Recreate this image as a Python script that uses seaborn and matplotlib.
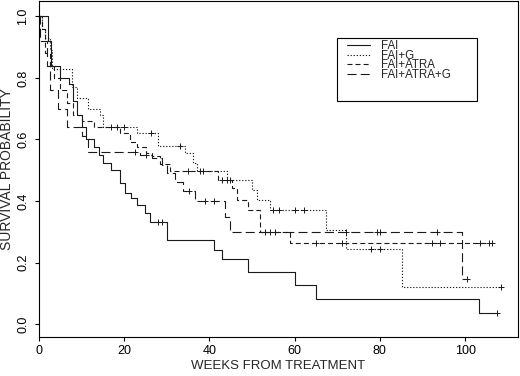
import numpy as np
import pandas as pd
import matplotlib
matplotlib.use('Agg')
import matplotlib.pyplot as plt
import seaborn as sns
from matplotlib.lines import Line2D
from matplotlib.patches import Rectangle

# Kaplan-Meier steps: event times (weeks) and survival after each step
groups = ['FAI', 'FAI+G', 'FAI+ATRA', 'FAI+ATRA+G']

fai_t = [0, 2.0, 2.8, 5.0, 7.0, 7.9, 8.9, 10.0, 11.0, 13.0, 14.0, 15.0, 17.0, 19.0,
         20.2, 21.7, 22.9, 24.9, 26.0, 30.0, 41.0, 43.0, 49.0, 60.0, 65.0, 103.3]
fai_s = [1.0, 0.92, 0.84, 0.80, 0.78, 0.725, 0.68, 0.64, 0.60, 0.575, 0.55, 0.525, 0.50, 0.46,
         0.425, 0.409, 0.387, 0.36, 0.333, 0.273, 0.24, 0.21, 0.168, 0.127, 0.081, 0.037]
fai_c = [28.0, 28.8, 107.4]

faig_t = [0, 0.6, 1.5, 2.5, 3.0, 7.7, 8.8, 11.5, 14.3, 15.0, 22.9, 28.0, 34.3, 36.1,
          37.0, 44.0, 49.9, 51.1, 54.2, 67.3, 72.0, 85.1]
faig_s = [1.0, 0.96, 0.93, 0.89, 0.83, 0.77, 0.735, 0.70, 0.68, 0.642, 0.62, 0.579, 0.555, 0.522,
          0.496, 0.468, 0.436, 0.403, 0.37, 0.306, 0.243, 0.12]
faig_c = [16.9, 18.2, 20.0, 26.2, 33.2, 38.6, 55.0, 56.2, 60.1, 62.2, 78.0, 80.0, 108.4]

fa_t = [0, 0.8, 1.5, 2.5, 3.5, 5.0, 6.5, 8.0, 10.0, 13.0, 19.0, 21.4, 22.9, 25.0, 26.6,
        28.3, 30.7, 42.0, 45.2, 46.4, 49.1, 51.9, 59.0]
fa_s = [1.0, 0.96, 0.88, 0.84, 0.80, 0.76, 0.72, 0.68, 0.66, 0.64, 0.62, 0.593, 0.577, 0.555, 0.545,
        0.52, 0.496, 0.468, 0.441, 0.403, 0.371, 0.30, 0.262]
fa_c = [35.0, 37.8, 42.9, 44.0, 44.8, 53.0, 55.4, 65.0, 71.0, 92.2, 94.1, 103.4, 105.5, 106.3]

fag_t = [0, 0.3, 1.8, 2.6, 4.5, 6.5, 10.0, 11.6, 23.7, 26.6, 28.9, 30.0, 32.0, 33.9, 36.6,
         43.7, 44.8, 99.3]
fag_s = [1.0, 0.92, 0.84, 0.76, 0.70, 0.64, 0.61, 0.56, 0.55, 0.539, 0.517, 0.49, 0.463, 0.434, 0.40,
         0.349, 0.30, 0.146]
fag_c = [22.5, 25.0, 35.2, 39.0, 41.0, 54.2, 72.0, 79.3, 80.0, 93.3, 100.4]

curves = {
    'FAI': (fai_t, fai_s, fai_c),
    'FAI+G': (faig_t, faig_s, faig_c),
    'FAI+ATRA': (fa_t, fa_s, fa_c),
    'FAI+ATRA+G': (fag_t, fag_s, fag_c),
}
x_ticks = [0, 20, 40, 60, 80, 100]
y_ticks = [0.0, 0.2, 0.4, 0.6, 0.8, 1.0]

sns.set_theme(style='ticks')
plt.rcParams['font.family'] = ['Liberation Sans', 'DejaVu Sans']
plt.rcParams['lines.scale_dashes'] = False

line_styles = {
    'FAI': '-',
    'FAI+G': (0, (0.9, 1.3)),
    'FAI+ATRA': (0, (3.6, 2.2)),
    'FAI+ATRA+G': (0, (6.5, 3.0)),
}
ink = '#1a1a1a'

fig = plt.figure(figsize=(5.2, 3.76), dpi=100)
ax = fig.add_axes([39 / 520, 1 - 337 / 376, 479 / 520, 336 / 376])

for name in groups:
    t, s, c = curves[name]
    # run the last step out to the last censored patient
    end = max(c[-1], t[-1])
    df = pd.DataFrame({'time': t + [end], 'surv': s + [s[-1]]})
    sns.lineplot(data=df, x='time', y='surv', ax=ax, estimator=None, errorbar=None,
                 drawstyle='steps-post', color=ink, linewidth=0.8,
                 linestyle=line_styles[name])
    idx = np.searchsorted(np.array(t), np.array(c), side='right') - 1
    cy = np.array(s)[idx]
    sns.scatterplot(x=c, y=cy, ax=ax, marker='+', s=18, color=ink, linewidth=0.7)

ax.set_xlim(0, 112.4)
ax.set_ylim(-0.042, 1.05)
ax.set_xticks(x_ticks)
ax.set_xticklabels([str(v) for v in x_ticks])
ax.set_yticks(y_ticks)
ax.set_yticklabels([f'{v:.1f}' for v in y_ticks], rotation=90, va='center')
ax.tick_params(axis='both', direction='out', length=3, width=0.8, colors='black',
               labelsize=9)
ax.tick_params(axis='x', pad=3)
ax.tick_params(axis='y', pad=4)
for sp in ax.spines.values():
    sp.set_visible(True)
    sp.set_linewidth(0.8)
    sp.set_color('black')

ax.set_xlabel('WEEKS FROM TREATMENT', fontsize=9.5, labelpad=2)
ax.set_ylabel('SURVIVAL PROBABILITY', fontsize=10, labelpad=2.5)

handles = [Line2D([0], [0], color=ink, linewidth=0.8, linestyle=line_styles[g]) for g in groups]
ax.legend(handles, groups, loc='upper left', bbox_to_anchor=(0.6424, 0.884),
          frameon=False, fontsize=8.3, borderpad=0, borderaxespad=0,
          labelspacing=-0.2, handlelength=2.0, handletextpad=1.0)
ax.add_patch(Rectangle((0.622, 0.702), 0.292, 0.187, transform=ax.transAxes,
                       fill=False, edgecolor='black', linewidth=0.8))

fig.savefig('out.png', dpi=100)
